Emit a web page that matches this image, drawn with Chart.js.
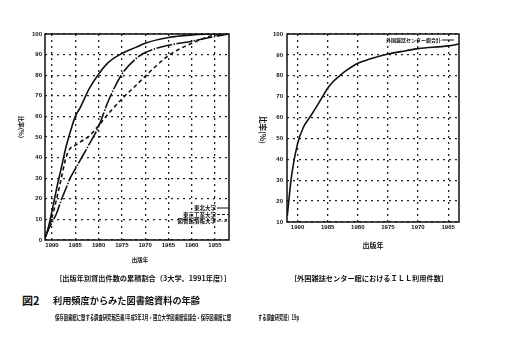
<!DOCTYPE html>
<html><head><meta charset="utf-8">
<script src="https://cdn.jsdelivr.net/npm/chart.js@4.4.1/dist/chart.umd.min.js"></script>
<style>
body{margin:0;background:#fff;width:523px;height:364px;overflow:hidden;position:relative;font-family:"Noto Sans CJK JP",sans-serif;color:#111}
canvas{position:absolute}
.t{position:absolute;white-space:nowrap;font-weight:bold;line-height:1}
.c{transform:translate(-50%,-50%)}
.v{transform:translate(-50%,-50%) rotate(90deg)}
</style></head><body>
<canvas id="cl" width="260" height="262" style="left:0;top:0;width:260px;height:262px"></canvas>
<canvas id="cr" width="263" height="262" style="left:260px;top:0;width:263px;height:262px"></canvas>
<div class="t v" style="left:21px;top:127px;font-size:6px">比率(%)</div>
<div class="t c" style="left:140px;top:261px;font-size:5.5px">出版年</div>
<div class="t v" style="left:263px;top:130px;font-size:7.5px">比率(%)</div>
<div class="t c" style="left:373px;top:245px;font-size:7px">出版年</div>
<div class="t c" style="left:143px;top:279px;font-size:7.2px">［出版年別貸出件数の累積割合（3大学、1991年度）］</div>
<div class="t c" style="left:369px;top:279px;font-size:7.2px">［外国雑誌センター館におけるＩＬＬ利用件数］</div>
<div class="t" style="left:22px;top:295px;font-size:11px">図2</div>
<div class="t" style="left:53px;top:296px;font-size:9.2px">利用頻度からみた図書館資料の年齢</div>
<div class="t" style="left:55px;top:314px;font-size:7px;transform:scaleX(0.62);transform-origin:left top">保存図書館に関する調査研究報告書/平成5年3月・国立大学図書館協議会・保存図書館に関</div>
<div class="t" style="left:258px;top:314px;font-size:7px;transform:scaleX(0.6);transform-origin:left top">する調査研究班）19p</div>
<script>
// ---- data ----
const leftYears = [1991.5, 1991, 1990, 1989, 1988, 1987, 1986, 1985, 1984, 1982, 1980, 1978, 1975, 1972, 1970, 1965, 1960, 1955, 1952];
const seriesA = [1, 4, 14, 25, 35, 45, 53, 60, 64, 73.5, 80.5, 86, 90.5, 93.5, 95.5, 98.3, 99.5, 100, 100];
const seriesB = [1, 4, 8.5, 13, 19.5, 25, 30.5, 34.5, 38.5, 46.5, 55, 67, 80.5, 88, 91, 94.5, 96.5, 98.8, 100];
const seriesC = [1, 4, 11, 20, 30, 40, 44.7, 46, 47.5, 50.5, 55.5, 61, 68.5, 75, 79.5, 89.5, 95.5, 99.5, 100];
const leftLabels = ['東北大学', '東京工業大学', '図書館情報大学'];
const leftXTicks = [1990, 1985, 1980, 1975, 1970, 1965, 1960, 1955];
const leftYTicks = [0, 10, 20, 30, 40, 50, 60, 70, 80, 90, 100];

const rightYears = [1991.7, 1991, 1990, 1989, 1988, 1987, 1986, 1985, 1984, 1983, 1982, 1980, 1978, 1975, 1972, 1970, 1965, 1963.2];
const rightSeries = [13, 32, 47.5, 55.5, 60, 64.5, 69.3, 74, 77.5, 80, 82.3, 86, 88, 90.4, 92, 93, 94.3, 95.2];
const rightLabel = '外国雑誌センター館合計';
const rightXTicks = [1990, 1985, 1980, 1975, 1970, 1965];
const rightYTicks = [10, 20, 30, 40, 50, 60, 70, 80, 90, 100];

// ---- helpers ----
const pts = (xs, ys) => xs.map((x, i) => ({x: x, y: ys[i]}));
const tickFont = {family: '"Liberation Sans", Arial, sans-serif', size: 6, weight: 'bold'};
const frame = {id: 'frame', afterDatasetsDraw(c) {
  const a = c.chartArea, ctx = c.ctx;
  ctx.save(); ctx.strokeStyle = '#111'; ctx.lineWidth = 1.5; ctx.setLineDash([]);
  ctx.strokeRect(a.left, a.top, a.right - a.left, a.bottom - a.top); ctx.restore();
}};
const cornerLegend = {id: 'cornerLegend', afterDatasetsDraw(c, args, o) {
  const ctx = c.ctx; ctx.save();
  ctx.font = 'bold ' + o.size + 'px "Noto Sans CJK JP"';
  ctx.textAlign = 'right'; ctx.textBaseline = 'middle'; ctx.fillStyle = '#111';
  c.data.datasets.forEach((d, i) => {
    const y = o.y + i * o.row;
    ctx.fillText(d.label, o.x, y);
    ctx.strokeStyle = '#111'; ctx.lineWidth = 1; ctx.setLineDash(d.legendDash || d.borderDash || []);
    ctx.beginPath(); ctx.moveTo(o.x + 1, y); ctx.lineTo(o.x + 1 + o.len, y); ctx.stroke();
  });
  ctx.restore();
}};
function axes(xmin, xmax, xt, ymin, ymax, yt, ypad) {
  const grid = {color: '#222', lineWidth: 1.3, drawTicks: false};
  return {
    x: {type: 'linear', reverse: true, min: xmin, max: xmax,
      afterBuildTicks: s => { s.ticks = xt.map(v => ({value: v})); },
      afterFit: s => { s.height = 12; },
      grid: grid, border: {display: false, dash: [2, 4]},
      ticks: {padding: 2, font: tickFont, color: '#111', maxRotation: 0, autoSkip: false, callback: v => String(v)}},
    y: {type: 'linear', min: ymin, max: ymax,
      afterBuildTicks: s => { s.ticks = yt.map(v => ({value: v})); },
      afterFit: s => { s.width = 14; },
      grid: grid, border: {display: false, dash: [2, 4]},
      ticks: {padding: ypad, font: tickFont, color: '#111', callback: v => String(v)}}
  };
}
const lineDs = (label, xs, ys, dash, legendDash) => ({label: label, data: pts(xs, ys), borderColor: '#111', borderWidth: 1.6,
  borderDash: dash, legendDash: legendDash, pointRadius: 0, cubicInterpolationMode: 'monotone', fill: false});

new Chart(document.getElementById('cl'), {
  type: 'line',
  data: {datasets: [
    lineDs(leftLabels[0], leftYears, seriesA, [], []),
    lineDs(leftLabels[1], leftYears, seriesC, [4, 3], [3, 2]),
    lineDs(leftLabels[2], leftYears, seriesB, [16, 1.5, 1.5, 1.5], [3, 1.5, 1, 1.5])
  ]},
  options: {responsive: false, animation: false, devicePixelRatio: 1,
    layout: {padding: {left: 31, top: 34, right: 31, bottom: 10}},
    scales: axes(1952, 1991.5, leftXTicks, 0, 100, leftYTicks, 3),
    plugins: {legend: {display: false}, tooltip: {enabled: false},
      cornerLegend: {x: 216, y: 208, row: 6.5, len: 12, size: 5.5}}},
  plugins: [frame, cornerLegend]
});

new Chart(document.getElementById('cr'), {
  type: 'line',
  data: {datasets: [lineDs(rightLabel, rightYears, rightSeries, [], [])]},
  options: {responsive: false, animation: false, devicePixelRatio: 1,
    layout: {padding: {left: 13, top: 34, right: 64, bottom: 28}},
    scales: axes(1963.2, 1991.75, rightXTicks, 10, 100, rightYTicks, 4),
    plugins: {legend: {display: false}, tooltip: {enabled: false},
      cornerLegend: {x: 181, y: 40, row: 0, len: 12, size: 5}}},
  plugins: [frame, cornerLegend]
});
</script>
</body></html>
